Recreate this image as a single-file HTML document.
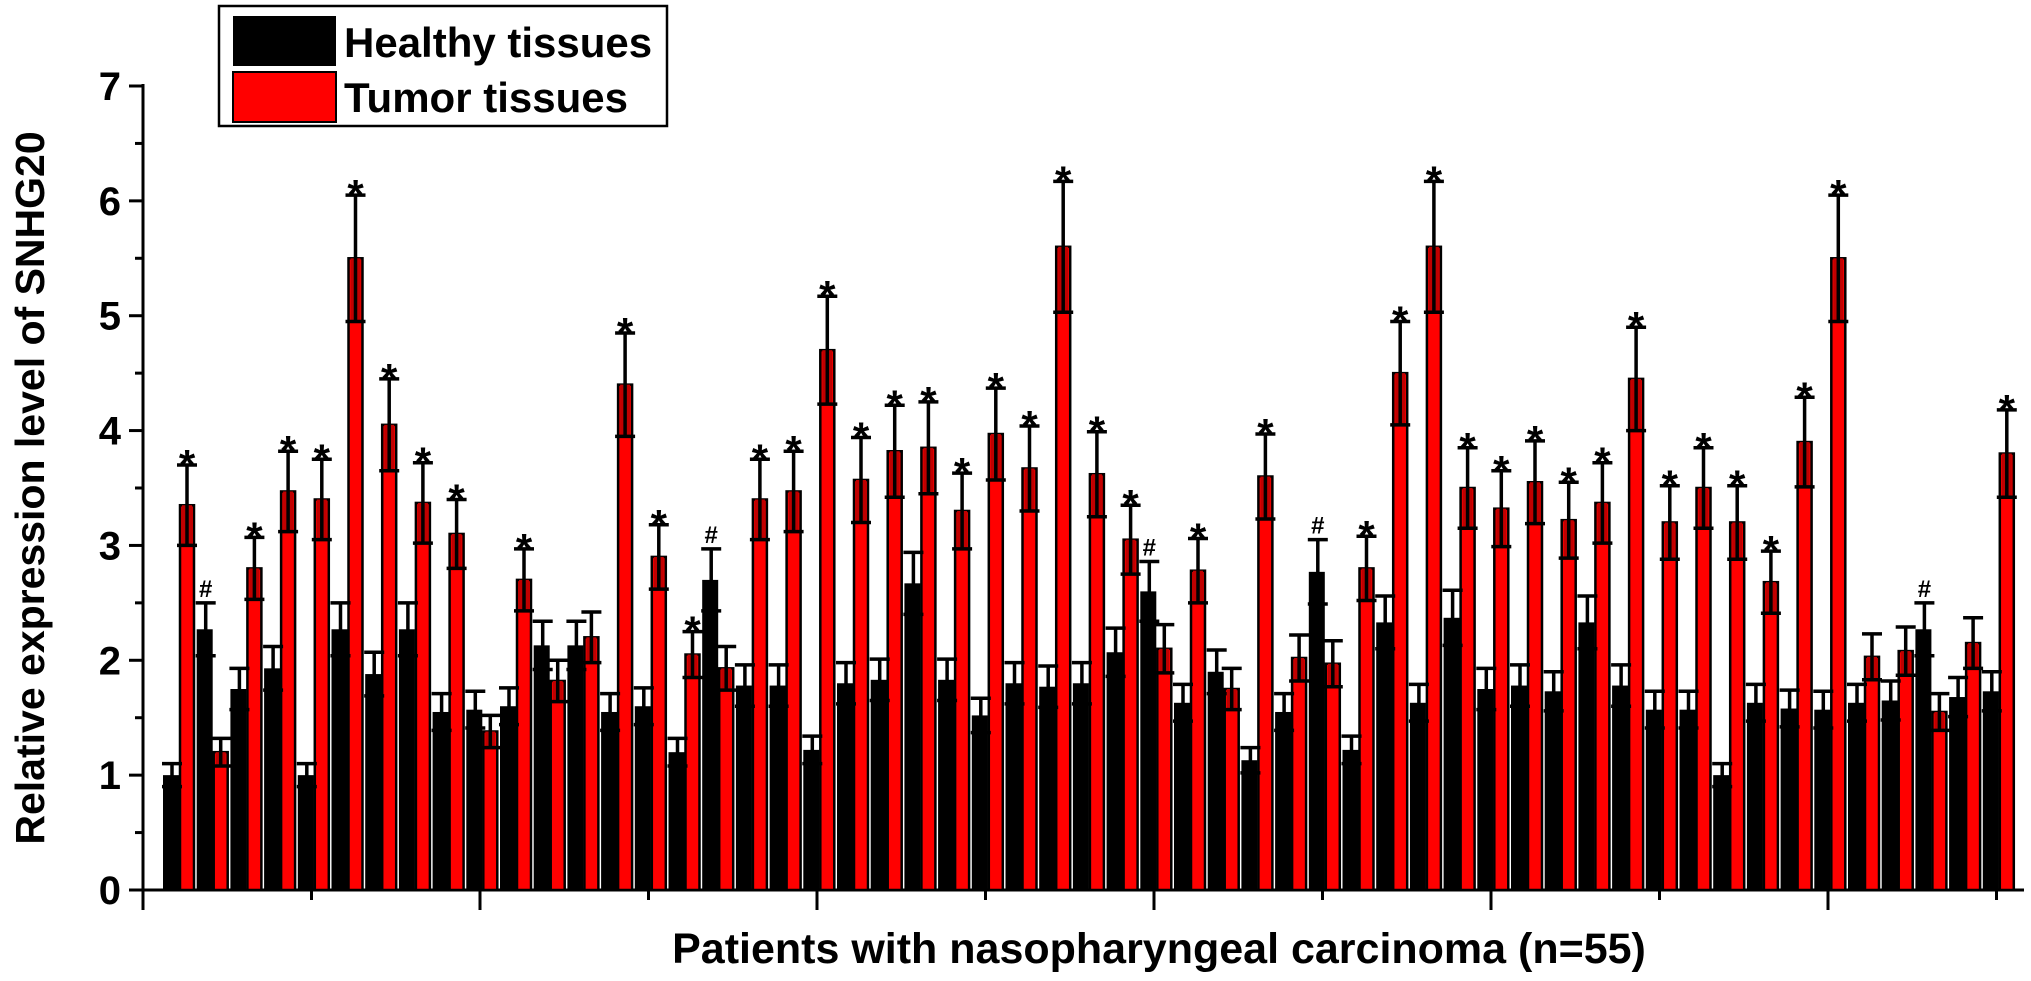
<!DOCTYPE html>
<html><head><meta charset="utf-8"><style>
html,body{margin:0;padding:0;background:#fff;}
svg{display:block;font-family:"Liberation Sans",Arial,sans-serif;font-weight:bold;}
</style></head><body>
<svg id="chart" width="2031" height="981" viewBox="0 0 2031 981" xmlns="http://www.w3.org/2000/svg">
<g id="axes"></g><g id="bars"></g>
<g>
<rect x="219" y="6" width="448" height="120" fill="#fff" stroke="#000" stroke-width="2.5"/>
<rect x="233" y="16" width="103" height="50" fill="#000"/>
<text x="344" y="57" font-size="42">Healthy tissues</text>
<rect x="233" y="72" width="103" height="50" fill="#ff0000" stroke="#000" stroke-width="2"/>
<text x="344" y="112" font-size="42">Tumor tissues</text>
</g>
<text transform="translate(44,488) rotate(-90)" text-anchor="middle" font-size="41">Relative expression level of SNHG20</text>
<text x="1159" y="963" text-anchor="middle" font-size="43">Patients with nasopharyngeal carcinoma (n=55)</text>
</svg>
<script>
const healthy=[1.0,2.27,1.75,1.93,1.0,2.27,1.88,2.27,1.55,1.57,1.6,2.13,2.13,1.55,1.6,1.2,2.7,1.78,1.78,1.22,1.8,1.83,2.67,1.83,1.52,1.8,1.77,1.8,2.07,2.6,1.63,1.9,1.13,1.55,2.77,1.22,2.33,1.63,2.37,1.75,1.78,1.73,2.33,1.78,1.57,1.57,1.0,1.63,1.58,1.57,1.63,1.65,2.27,1.68,1.73];
const tumor=[3.35,1.2,2.8,3.47,3.4,5.5,4.05,3.37,3.1,1.38,2.7,1.82,2.2,4.4,2.9,2.05,1.93,3.4,3.47,4.7,3.57,3.82,3.85,3.3,3.97,3.67,5.6,3.62,3.05,2.1,2.78,1.75,3.6,2.02,1.97,2.8,4.5,5.6,3.5,3.32,3.55,3.22,3.37,4.45,3.2,3.5,3.2,2.68,3.9,5.5,2.03,2.08,1.55,2.15,3.8];
const errHealthy=[0.1,0.23,0.18,0.19,0.1,0.23,0.19,0.23,0.16,0.16,0.16,0.21,0.21,0.16,0.16,0.12,0.27,0.18,0.18,0.12,0.18,0.18,0.27,0.18,0.15,0.18,0.18,0.18,0.21,0.26,0.16,0.19,0.11,0.16,0.28,0.12,0.23,0.16,0.24,0.18,0.18,0.17,0.23,0.18,0.16,0.16,0.1,0.16,0.16,0.16,0.16,0.17,0.23,0.17,0.17];
const errTumor=[0.35,0.12,0.27,0.35,0.35,0.55,0.4,0.35,0.3,0.14,0.27,0.18,0.22,0.45,0.28,0.2,0.19,0.35,0.35,0.47,0.37,0.4,0.4,0.33,0.4,0.37,0.57,0.37,0.3,0.21,0.28,0.18,0.37,0.2,0.2,0.28,0.45,0.57,0.35,0.33,0.36,0.33,0.35,0.45,0.32,0.35,0.32,0.27,0.39,0.55,0.2,0.21,0.16,0.22,0.38];
const marks=['*','#','*','*','*','*','*','*','*','','*','','','*','*','*','#','*','*','*','*','*','*','*','*','*','*','*','*','#','*','','*','','#','*','*','*','*','*','*','*','*','*','*','*','*','*','*','*','','','#','','*'];
const yTicks=['0','1','2','3','4','5','6','7'];

const NS='http://www.w3.org/2000/svg';
const X0=143,Y0=890,Y7=86,XEND=2024;
const yS=v=>Y0-(v/7)*(Y0-Y7);
const PAIR=33.7,FIRST=163;
const xS=i=>FIRST+i*PAIR;
function mk(tag,attrs,parent){const e=document.createElementNS(NS,tag);for(const k in attrs)e.setAttribute(k,attrs[k]);parent.appendChild(e);return e;}
const axes=document.getElementById('axes'),bars=document.getElementById('bars');

function errbar(cx,v,e,g,name){
  const a=mk('path',{d:`M${cx},${yS(v-e)}V${yS(v+e)}M${cx-10},${yS(v+e)}H${cx+10}M${cx-10},${yS(v-e)}H${cx+10}`,stroke:'#000','stroke-width':3.5,fill:'none'},g);
  
  
}
healthy.forEach((h,i)=>{
  const x=xS(i),t=tumor[i];
  const g=mk('g',{},bars);
  
  
  const bh=mk('rect',{x:x,y:yS(h),width:16,height:Y0-yS(h),fill:'#000'},g);
  
  
  const bt=mk('rect',{x:x+17,y:yS(t),width:14,height:Y0-yS(t),fill:'#ff0000',stroke:'#000','stroke-width':2.5},g);
  
  
  const dk=mk('rect',{x:x+19,y:yS(t),width:10,height:yS(t-errTumor[i])-yS(t),fill:'#c00000'},g);
  
  
  errbar(x+9,h,errHealthy[i],g,'error-bar-healthy-'+(i+1));
  errbar(x+24,t,errTumor[i],g,'error-bar-tumor-'+(i+1));
  if(marks[i]){
    let mx,my,fs;
    if(marks[i]==='*'){mx=x+24;my=yS(t+errTumor[i])+14;fs=42;}
    else{mx=x+9;my=yS(h+errHealthy[i])-6;fs=24;}
    const m=mk('text',{x:mx,y:my,'text-anchor':'middle','font-size':fs},g);
    m.textContent=marks[i];
    
    
  }
});
const yAx=mk('line',{x1:X0,y1:Y7-2,x2:X0,y2:Y0+1,stroke:'#000','stroke-width':3},axes);


const xAx=mk('line',{x1:X0-1,y1:Y0,x2:XEND,y2:Y0,stroke:'#000','stroke-width':3},axes);


yTicks.forEach((lab,i)=>{
  const y=yS(+lab);
  const t=mk('line',{x1:X0-14,y1:y,x2:X0,y2:y,stroke:'#000','stroke-width':3},axes);
  
  
  if(i<7){const m=mk('line',{x1:X0-8,y1:yS(+lab+0.5),x2:X0,y2:yS(+lab+0.5),stroke:'#000','stroke-width':3},axes);
  
  }
  const tx=mk('text',{x:X0-22,y:y+14,'text-anchor':'end','font-size':40},axes);
  tx.textContent=lab;
  
  
});
for(let k=0;k<=11;k++){
  const x=X0+k*5*PAIR;
  if(x>XEND)break;
  const t=mk('line',{x1:x,y1:Y0,x2:x,y2:Y0+(k%2?10:20),stroke:'#000','stroke-width':3},axes);
  
  
}
</script>
</body></html>
